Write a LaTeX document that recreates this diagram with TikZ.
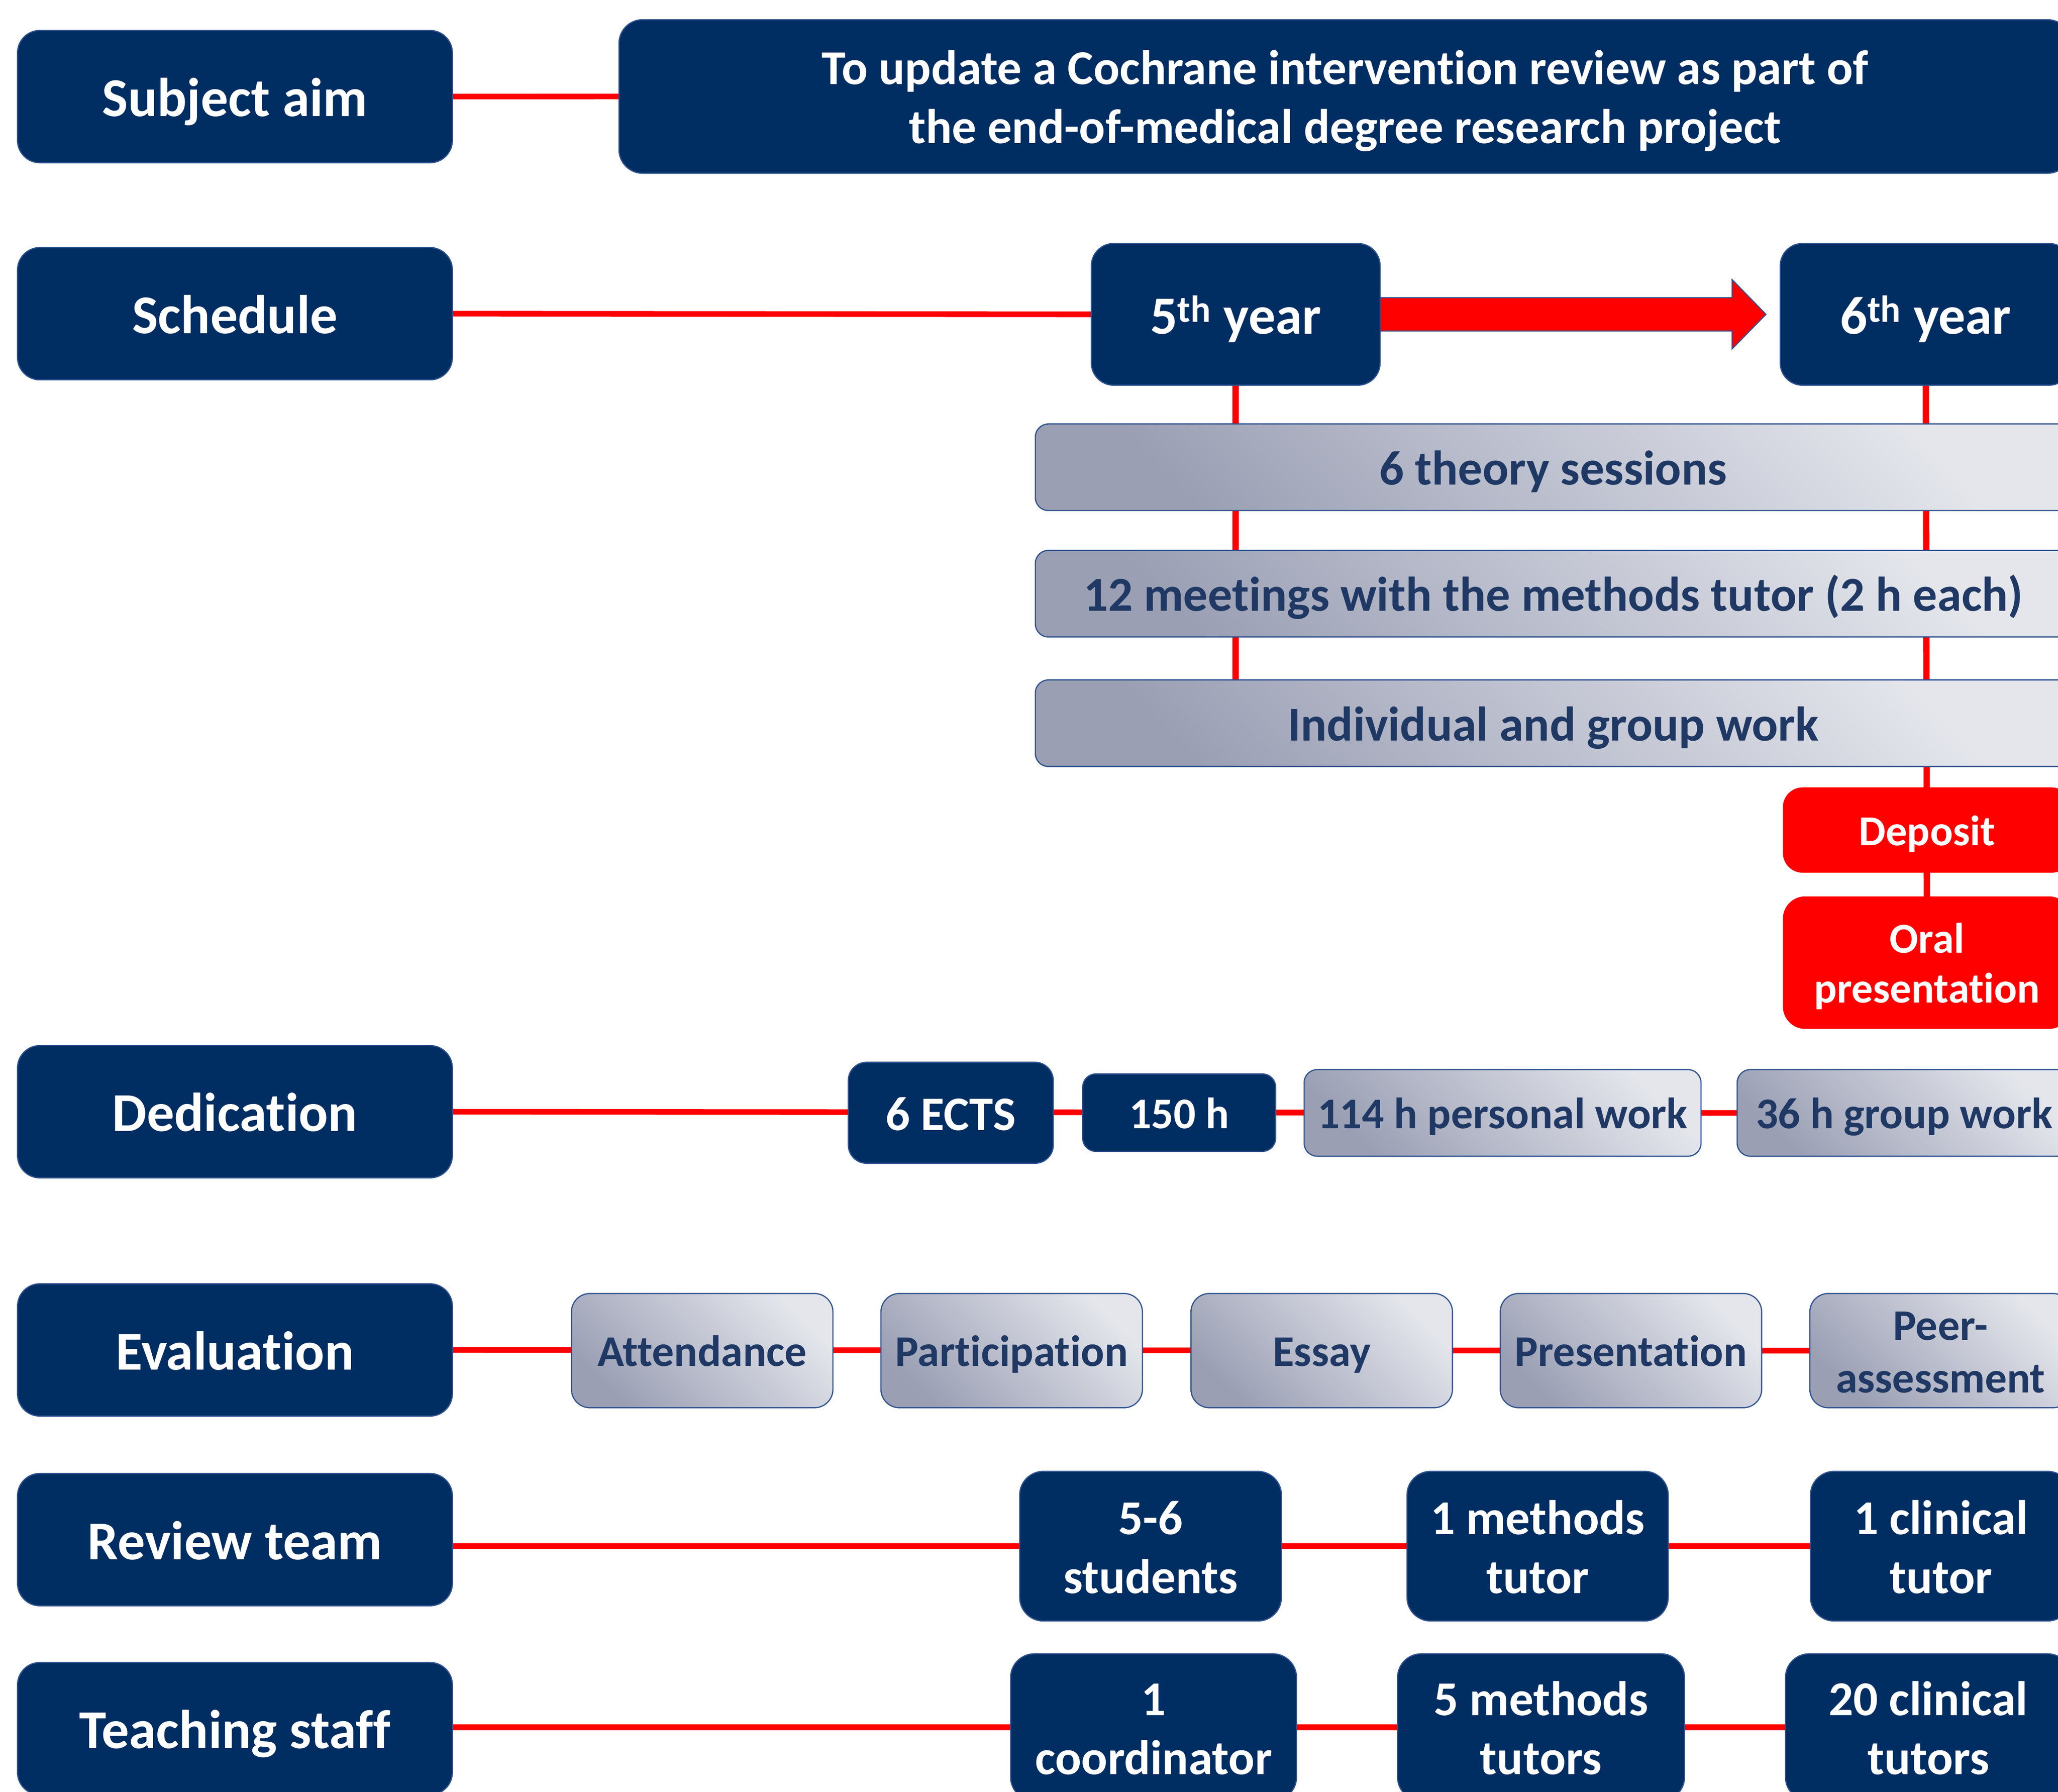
\documentclass[tikz,border=0pt]{standalone}
\usepackage{fontspec}
\setmainfont{Carlito}[Ligatures=NoCommon]
\pgfdeclarelayer{bg}
\pgfsetlayers{bg,main}
\definecolor{navy}{HTML}{002D62}
\definecolor{edge}{HTML}{2F528F}
\definecolor{gdark}{HTML}{9A9FB4}
\definecolor{glight}{HTML}{E4E6EC}
\definecolor{gtext}{HTML}{1F3864}
\definecolor{linered}{HTML}{FF0000}
\newcommand{\twoline}[2]{\rule{0pt}{0.72em}\smash{#1}\\\smash{#2}}
\begin{document}
\begin{tikzpicture}[x=1pt,y=-1pt,
  every node/.style={inner sep=0pt, outer sep=0pt, align=center},
  base/.style={rectangle, draw=edge, line width=0.9pt},
  dark/.style={base, fill=navy, text=white},
  grad/.style={base, top color=glight, bottom color=gdark, shading angle=-45, text=gtext},
  redbox/.style={rectangle, fill=linered, text=white},
  lbl/.style={dark, rounded corners=17pt, minimum width=331.3pt, minimum height=100.8pt, f41},
  f41/.style={font=\bfseries\fontsize{41.7}{50}\selectfont, text height=30pt, text depth=0pt},
  f40/.style={font=\bfseries\fontsize{41}{48}\selectfont, text height=29.5pt, text depth=0pt},
  f36/.style={font=\bfseries\fontsize{37.1}{45}\selectfont, text height=26.7pt, text depth=0pt},
  fects/.style={font=\bfseries\fontsize{36.7}{45}\selectfont, text height=26.4pt, text depth=0pt},
  f32/.style={font=\bfseries\fontsize{33.4}{40}\selectfont, text height=24pt, text depth=0pt},
  fdep/.style={font=\bfseries\fontsize{32.5}{40}\selectfont, text height=23.4pt, text depth=0pt},
  m36/.style={font=\bfseries\fontsize{37.1}{45}\selectfont},
  m32/.style={font=\bfseries\fontsize{33.3}{40}\selectfont},
  m32o/.style={font=\bfseries\fontsize{32.5}{38}\selectfont},
  conn/.style={draw=linered, line width=4.3pt},
  vconn/.style={draw=linered, line width=4.8pt},
  longbox/.style={grad, rounded corners=10pt, minimum width=789.2pt, minimum height=66pt, f36},
  evalbox/.style={grad, rounded corners=14pt, minimum width=199.2pt, minimum height=87pt},
  teambox/.style={dark, rounded corners=18pt, minimum height=114pt, m36},
  staffbox/.style={dark, rounded corners=18pt, minimum height=112pt, m36},
]
\path[use as bounding box] (0,0) rectangle (1568,1365);
\clip (0,0) rectangle (1568,1365);

% left labels
\node[lbl] (sa)  at (179,73.6)   {Subject aim};
\node[lbl] (sch) at (179,239)    {Schedule};
\node[lbl] (ded) at (179,847)    {Dedication};
\node[lbl] (ev)  at (179,1028.5) {Evaluation};
\node[lbl] (rt)  at (179,1173)   {Review team};
\node[lbl] (ts)  at (179,1317)   {Teaching staff};

% subject aim
\node[dark, rounded corners=18pt, minimum width=1106.4pt, minimum height=117pt, m36] (aim) at (1024.8,73.5)
  {\twoline{To update a Cochrane intervention review as part of}{the end-of-medical degree research project}};

% schedule
\node[dark, rounded corners=17pt, minimum width=220pt, minimum height=108pt, f40] (y5) at (941.5,239.5) {5\textsuperscript{th} year};
\node[dark, rounded corners=17pt, minimum width=221.7pt, minimum height=108pt, f40] (y6) at (1467.2,239.5) {6\textsuperscript{th} year};
\node[longbox] (th)  at (1183.4,356)   {6 theory sessions};
\node[longbox] (mt)  at (1183.4,452.3) {12 meetings with the methods tutor (2 h each)};
\node[longbox] (ind) at (1183.4,551)   {Individual and group work};
\node[redbox, rounded corners=15pt, minimum width=219.6pt, minimum height=65pt, fdep] (dep) at (1468.2,632.4) {Deposit};
\node[redbox, rounded corners=17pt, minimum width=219.6pt, minimum height=101pt, m32o] (oral) at (1468.2,733.4) {\twoline{Oral}{presentation}};

% dedication
\node[dark, rounded corners=14pt, minimum width=156.2pt, minimum height=77pt, fects] (ects) at (724.4,847.8) {6 ECTS};
\node[dark, rounded corners=10pt, minimum width=147pt, minimum height=59pt, f32] (h150) at (898.4,847.7) {150 h};
\node[grad, rounded corners=10pt, minimum width=302.4pt, minimum height=66pt, f32] (h114) at (1144.8,847.9) {114 h personal work};
\node[grad, rounded corners=10pt, minimum width=254.5pt, minimum height=66pt, f32] (h36) at (1450.8,847.9) {36 h group work};

% evaluation
\node[evalbox, f32] (att)  at (535,1029)    {Attendance};
\node[evalbox, f32] (par)  at (770.8,1029)  {Participation};
\node[evalbox, f32] (ess)  at (1007,1029)   {Essay};
\node[evalbox, f32] (pre)  at (1242.6,1029) {Presentation};
\node[evalbox, m32] (peer) at (1478.5,1029) {\twoline{Peer-}{assessment}};

% review team
\node[teambox, minimum width=199.4pt] (s56) at (876.6,1178)  {\twoline{5-6}{students}};
\node[teambox, minimum width=199pt]   (mt1) at (1171.5,1178) {\twoline{1 methods}{tutor}};
\node[teambox, minimum width=198.6pt] (ct1) at (1478.7,1178) {\twoline{1 clinical}{tutor}};

% teaching staff
\node[staffbox, minimum width=217.8pt] (co1)  at (878.9,1316)  {\twoline{1}{coordinator}};
\node[staffbox, minimum width=218.6pt] (mt5)  at (1174.1,1316) {\twoline{5 methods}{tutors}};
\node[staffbox, minimum width=217.7pt] (ct20) at (1469.2,1316) {\twoline{20 clinical}{tutors}};

\begin{pgfonlayer}{bg}
  \draw[conn] (sa.east) -- (aim.west);
  \draw[conn] (sch.east) -- (y5.west);
  \draw[vconn] (y5.center) -- (y5.center |- ind.center);
  \draw[vconn] (y6.center) -- (oral.center);
  \draw[conn] (ded.east) -- (h36.west);
  \draw[conn] (ev.east) -- (peer.west);
  \draw[conn] (s56.west -| rt.east) -- (ct1.west);
  \draw[conn] (co1.west -| ts.east) -- (ct20.west);
  \filldraw[fill=linered, draw=edge, line width=0.8pt, line join=miter]
    (1051.5,226.8) -- (1319.7,226.8) -- (1319.7,213) -- (1345.5,239.5)
    -- (1319.7,265.8) -- (1319.7,252.2) -- (1051.5,252.2);
\end{pgfonlayer}
\end{tikzpicture}
\end{document}
